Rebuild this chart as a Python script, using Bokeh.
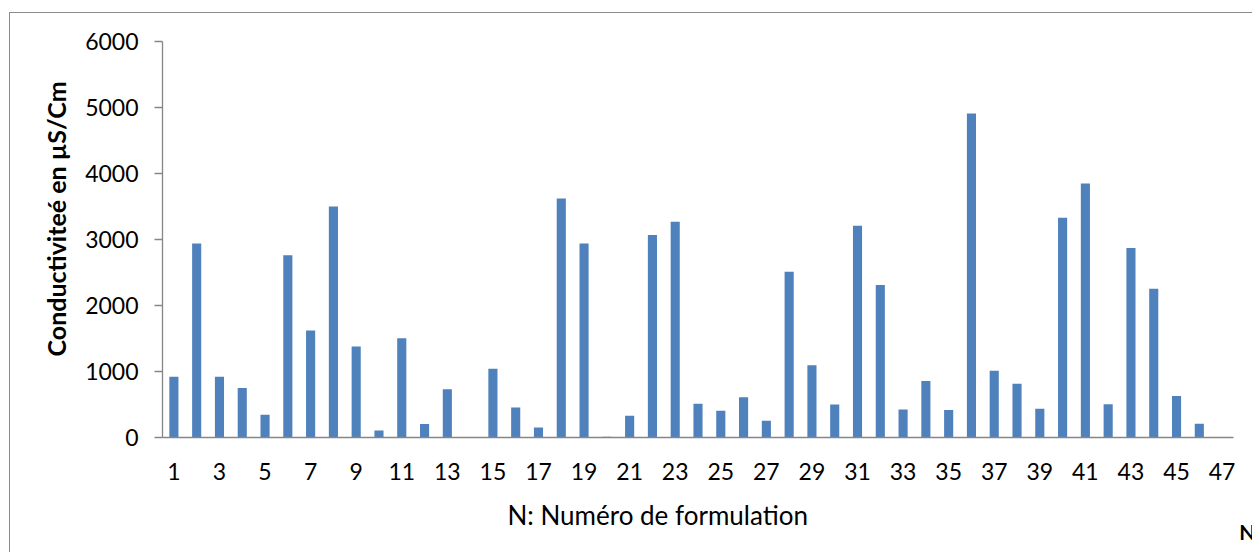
from bokeh.plotting import figure
from bokeh.models import ColumnDataSource, Range1d, FixedTicker, Title, InlineStyleSheet
from bokeh.embed import file_html
from bokeh.resources import INLINE

# Conductivity (µS/cm) of each formulation N = 1..47
formulation = list(range(1, 48))
conductivity = [
    920, 2940, 920, 750, 345, 2760, 1620, 3500, 1380, 105,
    1505, 205, 730, 0, 1040, 455, 150, 3620, 2940, 10,
    330, 3070, 3270, 510, 405, 610, 255, 2510, 1095, 500,
    3210, 2310, 425, 855, 415, 4910, 1010, 815, 435, 3330,
    3850, 505, 2870, 2255, 630, 210, 0,
]
x_ticks = list(range(1, 48, 2))
y_ticks = [0, 1000, 2000, 3000, 4000, 5000, 6000]

y_title = "Conductiviteé en  µS/Cm"
x_title = "N: Numéro de  formulation"
corner_note = "N"

FONT = "Lato"
AXIS_GREY = "#868686"

src = ColumnDataSource(dict(n=formulation, c=conductivity))

p = figure(
    width=1252, height=552,
    output_backend="svg", toolbar_location=None,
    x_range=Range1d(0.5, 47.5), y_range=Range1d(0, 6000),
    min_border_left=162, min_border_right=19,
    min_border_top=41, min_border_bottom=115,
)
p.outline_line_color = None
p.xgrid.grid_line_color = None
p.ygrid.grid_line_color = None
p.background_fill_color = "white"
p.border_fill_color = "white"

p.vbar(x="n", top="c", width=0.4, bottom=0, source=src,
       fill_color="#4F81BD", line_color=None)

# y axis
ya = p.yaxis[0]
ya.ticker = FixedTicker(ticks=y_ticks)
ya.axis_line_color = AXIS_GREY
ya.axis_line_width = 1.3
ya.major_tick_line_color = AXIS_GREY
ya.major_tick_line_width = 1.3
ya.major_tick_out = 8
ya.major_tick_in = 0
ya.minor_tick_line_color = None
ya.major_label_text_font = FONT
ya.major_label_text_font_size = "23px"
ya.major_label_text_color = "black"
ya.major_label_standoff = 16

# x axis
xa = p.xaxis[0]
xa.ticker = FixedTicker(ticks=x_ticks)
xa.axis_line_color = AXIS_GREY
xa.axis_line_width = 1.3
xa.major_tick_line_color = None
xa.major_tick_out = 0
xa.major_tick_in = 0
xa.minor_tick_line_color = None
xa.major_label_text_font = FONT
xa.major_label_text_font_size = "23px"
xa.major_label_text_color = "black"
xa.major_label_standoff = 25

# axis titles
p.add_layout(Title(text=y_title, align="left", offset=81, vertical_align="middle",
                   text_font=FONT, text_font_size="25px", text_font_style="bold",
                   text_color="black", standoff=22), "left")
p.add_layout(Title(text=x_title, align="left", offset=345, vertical_align="middle",
                   text_font=FONT, text_font_size="26px", text_font_style="normal",
                   text_color="black", standoff=30), "below")
p.add_layout(Title(text=corner_note, align="right", offset=-22, vertical_align="top",
                   text_font=FONT, text_font_size="21px", text_font_style="bold",
                   text_color="black", standoff=-56), "below")

# chart area border (left and top edges)
p.stylesheets = [InlineStyleSheet(css="""
:host { position: relative; }
:host::after {
  content: ''; position: absolute; left: 9px; top: 12px;
  width: calc(100% - 9px); height: calc(100% - 12px);
  border-left: 1.5px solid #8c8c8c; border-top: 1.5px solid #8c8c8c;
  box-sizing: border-box; pointer-events: none;
}
""")]

open("out.html", "w").write(file_html(p, INLINE))
